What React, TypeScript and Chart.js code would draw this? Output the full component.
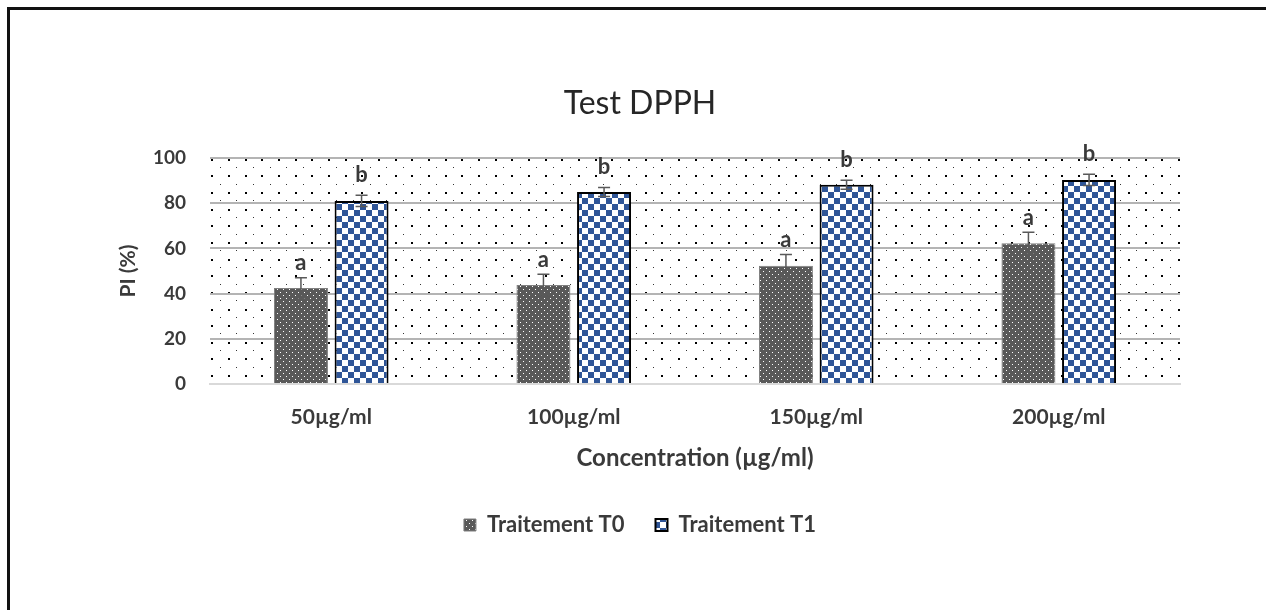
import React, { useEffect, useRef } from 'react';
import { Chart, registerables } from 'chart.js';

Chart.register(...registerables);

// ---- Data ----
const categories = ['50µg/ml', '100µg/ml', '150µg/ml', '200µg/ml'];
const seriesNames = ['Traitement T0', 'Traitement T1'];
const t0Values = [42.5, 43.8, 52.3, 62.3];
const t0Errors = [4.5, 4.8, 5.0, 4.8];
const t1Values = [81.0, 85.0, 88.2, 90.3];
const t1Errors = [2.5, 2.0, 2.0, 2.5];
const t0Letters = ['a', 'a', 'a', 'a'];
const t1Letters = ['b', 'b', 'b', 'b'];
const yTicks = [0, 20, 40, 60, 80, 100];
const chartTitle = 'Test DPPH';
const xTitle = 'Concentration (µg/ml)';
const yTitle = 'PI (%)';

const FONT = 'Lato';
const TEXT = '#3a3a3a';

function makeT0Pattern(): CanvasPattern | string {
  const c = document.createElement('canvas');
  c.width = 6; c.height = 6;
  const g = c.getContext('2d');
  if (!g) return '#595959';
  g.fillStyle = '#595959';
  g.fillRect(0, 0, 6, 6);
  g.fillStyle = '#ffffff';
  g.fillRect(1, 1, 1, 1);
  g.fillRect(4, 4, 1, 1);
  return g.createPattern(c, 'repeat') || '#595959';
}

function makeT1Pattern(): CanvasPattern | string {
  const c = document.createElement('canvas');
  c.width = 12; c.height = 12;
  const g = c.getContext('2d');
  if (!g) return '#2F5597';
  g.fillStyle = '#ffffff';
  g.fillRect(0, 0, 12, 12);
  g.fillStyle = '#2F5597';
  g.fillRect(0, 0, 6, 6);
  g.fillRect(6, 6, 6, 6);
  return g.createPattern(c, 'repeat') || '#2F5597';
}

const dotBackgroundPlugin = {
  id: 'dotBackground',
  beforeDraw(chart: any) {
    const { ctx, chartArea } = chart;
    const { left, right, top, bottom } = chartArea;
    const step = 50 / 3;
    const half = step / 2;
    ctx.save();
    ctx.fillStyle = '#ffffff';
    ctx.fillRect(left, top, right - left, bottom - top);
    let k = 0;
    for (let y = top + 0.5; y < bottom; y += half, k++) {
      const big = k % 2 === 0;
      const x0 = left + (big ? 1.4 : 9.7);
      for (let x = x0; x < right; x += step) {
        if (big) {
          ctx.fillStyle = '#000000';
          ctx.fillRect(Math.round(x), Math.round(y), 2, 2);
        } else {
          ctx.fillStyle = '#333333';
          ctx.fillRect(Math.round(x), Math.round(y), 1, 1);
        }
      }
    }
    ctx.restore();
  },
};

const errorBarPlugin = {
  id: 'errorBars',
  afterDatasetsDraw(chart: any) {
    const ctx = chart.ctx;
    const yScale = chart.scales.y;
    const errs = [t0Errors, t1Errors];
    const letters = [t0Letters, t1Letters];
    const letterGap = [7.5, 13.5];
    chart.data.datasets.forEach((ds: any, di: number) => {
      const meta = chart.getDatasetMeta(di);
      meta.data.forEach((bar: any, i: number) => {
        const v = ds.data[i];
        const e = errs[di][i];
        const x = bar.x;
        const yTop = yScale.getPixelForValue(v + e);
        const yBot = yScale.getPixelForValue(v - e);
        ctx.save();
        ctx.strokeStyle = '#595959';
        ctx.lineWidth = 1.5;
        ctx.beginPath();
        ctx.moveTo(x, yTop);
        ctx.lineTo(x, yBot);
        ctx.moveTo(x - 6, yTop);
        ctx.lineTo(x + 6, yTop);
        ctx.moveTo(x - 6, yBot);
        ctx.lineTo(x + 6, yBot);
        ctx.stroke();
        ctx.fillStyle = TEXT;
        ctx.font = `bold 22px ${FONT}`;
        ctx.textAlign = 'center';
        ctx.textBaseline = 'alphabetic';
        ctx.fillText(letters[di][i], x, yTop - letterGap[di]);
        ctx.restore();
      });
    });
  },
};

export default function App() {
  const canvasRef = useRef<HTMLCanvasElement | null>(null);

  useEffect(() => {
    const canvas = canvasRef.current;
    if (!canvas) return;
    const t0Pattern = makeT0Pattern();
    const t1Pattern = makeT1Pattern();
    const chart = new Chart(canvas, {
      type: 'bar',
      data: {
        labels: categories,
        datasets: [
          {
            label: seriesNames[0],
            data: t0Values,
            backgroundColor: t0Pattern as any,
            borderColor: '#7F7F7F',
            borderWidth: 1,
            categoryPercentage: 0.5,
            barPercentage: 0.89,
          },
          {
            label: seriesNames[1],
            data: t1Values,
            backgroundColor: t1Pattern as any,
            borderColor: '#000000',
            borderWidth: 2,
            categoryPercentage: 0.5,
            barPercentage: 0.89,
          },
        ],
      },
      options: {
        responsive: false,
        animation: false,
        devicePixelRatio: 1,
        layout: { padding: { top: 0, left: 100, right: 86, bottom: 64 } },
        plugins: {
          title: {
            display: true,
            text: chartTitle,
            color: '#262626',
            font: { family: FONT, size: 32, weight: 'normal' as any, lineHeight: 1.2 },
            padding: { top: 84, bottom: 35.6 },
          },
          legend: {
            display: true,
            position: 'bottom',
            labels: {
              color: TEXT,
              font: { family: FONT, size: 22, weight: 'bold' as any },
              boxWidth: 12,
              boxHeight: 12,
              padding: 31,
            },
          },
          tooltip: { enabled: false },
        },
        scales: {
          x: {
            afterFit: (scale: any) => { scale.height = 99; },
            grid: { display: false, drawTicks: false },
            border: { display: true, color: '#D9D9D9', width: 2 },
            ticks: {
              color: TEXT,
              font: { family: FONT, size: 21, weight: 'bold' as any },
              padding: 21,
              maxRotation: 0,
            },
            title: {
              display: true,
              text: xTitle,
              color: TEXT,
              font: { family: FONT, size: 24, weight: 'bold' as any, lineHeight: 1.2 },
              padding: { top: 10, bottom: 10.6 },
            },
          },
          y: {
            min: 0,
            max: 100,
            afterFit: (scale: any) => { scale.width = 110; },
            afterBuildTicks: (scale: any) => { scale.ticks = yTicks.map((v) => ({ value: v })); },
            grid: {
              drawTicks: false,
              color: (c: any) => (c.tick && c.tick.value === 0 ? '#D9D9D9' : '#B4B4B4'),
              lineWidth: 2,
            },
            border: { display: false },
            ticks: {
              color: TEXT,
              font: { family: FONT, size: 19, weight: 'bold' as any },
              padding: 24,
            },
            title: {
              display: true,
              text: yTitle,
              color: TEXT,
              font: { family: FONT, size: 21, weight: 'bold' as any, lineHeight: 1.2 },
              padding: { top: 16, bottom: 0 },
            },
          },
        },
      },
      plugins: [dotBackgroundPlugin, errorBarPlugin],
    });
    return () => chart.destroy();
  }, []);

  return (
    <div style={{ position: 'fixed', left: 0, top: 0, width: 1266, height: 610, overflow: 'hidden', background: '#ffffff' }}>
      <div
        style={{
          position: 'absolute',
          left: 7,
          top: 7,
          width: 1300,
          height: 700,
          borderLeft: '3px solid #111111',
          borderTop: '3px solid #111111',
        }}
      />
      <canvas
        ref={canvasRef}
        width={1266}
        height={610}
        style={{ position: 'absolute', left: 0, top: 0, width: 1266, height: 610 }}
      />
    </div>
  );
}
